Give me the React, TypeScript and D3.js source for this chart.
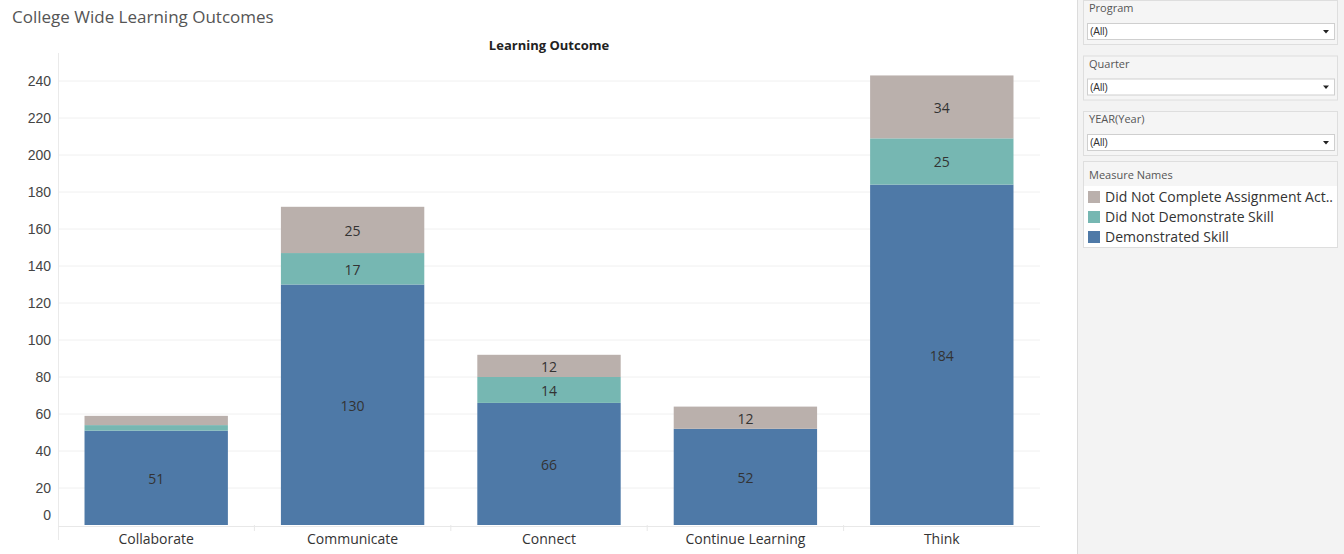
import React from "react";
import * as d3 from "d3";

const categories = ["Collaborate", "Communicate", "Connect", "Continue Learning", "Think"];
const demonstrated = [51, 130, 66, 52, 184];
const didNotDemonstrate = [3, 17, 14, 0, 25];
const didNotComplete = [5, 25, 12, 12, 34];
const seriesNames = ["Demonstrated Skill", "Did Not Demonstrate Skill", "Did Not Complete Assignment Act.."];
const seriesColors = ["#4e79a7", "#76b7b2", "#bab0ac"];
const yTicks = [0, 20, 40, 60, 80, 100, 120, 140, 160, 180, 200, 220, 240];
const filters = ["Program", "Quarter", "YEAR(Year)"];

const W = 1344, H = 554;
const left = 58, right = 1040, top = 53, bottom = 525;

export default function App() {
  const x = d3.scaleBand<string>().domain(categories).range([left, right]).paddingInner(0.27).paddingOuter(0.135);
  const y = d3.scaleLinear().domain([0, 240]).range([bottom, bottom - 444]);
  const rows = categories.map((c, i) => ({ c, demonstrated: demonstrated[i], didNotDemonstrate: didNotDemonstrate[i], didNotComplete: didNotComplete[i] }));
  const stack = d3.stack<any>().keys(["demonstrated", "didNotDemonstrate", "didNotComplete"])(rows);
  const bandStep = (right - left) / categories.length;
  const font = "'Open Sans', 'Noto Sans', sans-serif";
  const axisFont = "'Liberation Sans', Arial, sans-serif";

  return (
    <svg width={W} height={H} style={{ position: "absolute", left: 0, top: 0, background: "#fff" }}>
      <text x={12} y={23} fontFamily={font} fontSize={17} fill="#555">College Wide Learning Outcomes</text>
      <text x={(left + right) / 2} y={50} textAnchor="middle" fontFamily={font} fontSize={13} fontWeight="bold" fill="#222">Learning Outcome</text>
      {yTicks.map((t) => (
        <g key={t}>
          {t > 0 && <line x1={left} x2={right} y1={y(t)} y2={y(t)} stroke="#f0f0f0" />}
          <text x={51} y={t === 0 ? y(t) - 5 : y(t) + 5} textAnchor="end" fontFamily={axisFont} fontSize={14} fill="#444">{t}</text>
        </g>
      ))}
      <line x1={left + 0.5} x2={left + 0.5} y1={top} y2={bottom + 15} stroke="#eaeaea" />
      <line x1={left} x2={right} y1={bottom + 1.5} y2={bottom + 1.5} stroke="#e8e8e8" />
      {categories.slice(1).map((c, i) => (
        <line key={c} x1={left + bandStep * (i + 1)} x2={left + bandStep * (i + 1)} y1={bottom} y2={bottom + 6} stroke="#e8e8e8" />
      ))}
      {stack.map((s, si) => (
        <g key={si}>
          {s.map((d: any, i: number) => {
            const h = y(d[0]) - y(d[1]);
            if (h <= 0) return null;
            return (
              <g key={i}>
                <rect x={x(categories[i])} y={y(d[1])} width={x.bandwidth()} height={h} fill={seriesColors[si]} />
                {h > 16 && (
                  <text x={x(categories[i])! + x.bandwidth() / 2} y={(y(d[0]) + y(d[1])) / 2 + 6} textAnchor="middle" fontFamily={font} fontSize={14} fill="#333">{d[1] - d[0]}</text>
                )}
              </g>
            );
          })}
        </g>
      ))}
      {categories.map((c) => (
        <text key={c} x={x(c)! + x.bandwidth() / 2} y={544} textAnchor="middle" fontFamily={font} fontSize={14} fill="#333">{c}</text>
      ))}
      {/* right panel */}
      <rect x={1077} y={0} width={W - 1077} height={H} fill="#f3f3f3" />
      <line x1={1077.5} x2={1077.5} y1={0} y2={H} stroke="#dcdcdc" />
      {filters.map((f, i) => {
        const by = i * 55.5;
        return (
          <g key={f}>
            <rect x={1083.5} y={by + 0.5} width={254} height={44} fill="#f5f5f5" stroke="#dedede" />
            <text x={1089} y={by + 12} fontFamily={font} fontSize={11} fill="#555">{f}</text>
            <rect x={1087.5} y={by + 23.5} width={247} height={16} fill="#fff" stroke="#cfcfcf" />
            <text x={1090} y={by + 35} fontFamily={axisFont} fontSize={10} fill="#333">(All)</text>
            <path d={`M${1323},${by + 30} l6,0 l-3,3.5 z`} fill="#222" />
          </g>
        );
      })}
      <rect x={1083.5} y={161.5} width={254} height={86} fill="#fff" stroke="#dedede" />
      <rect x={1084} y={162} width={253} height={24} fill="#f5f5f5" />
      <text x={1089} y={179} fontFamily={font} fontSize={11} fill="#555">Measure Names</text>
      {[2, 1, 0].map((si, k) => (
        <g key={si}>
          <rect x={1088} y={191 + k * 20} width={12} height={12} fill={seriesColors[si]} />
          <text x={1105} y={202 + k * 20} fontFamily={font} fontSize={14} fill="#333">{seriesNames[si]}</text>
        </g>
      ))}
    </svg>
  );
}
